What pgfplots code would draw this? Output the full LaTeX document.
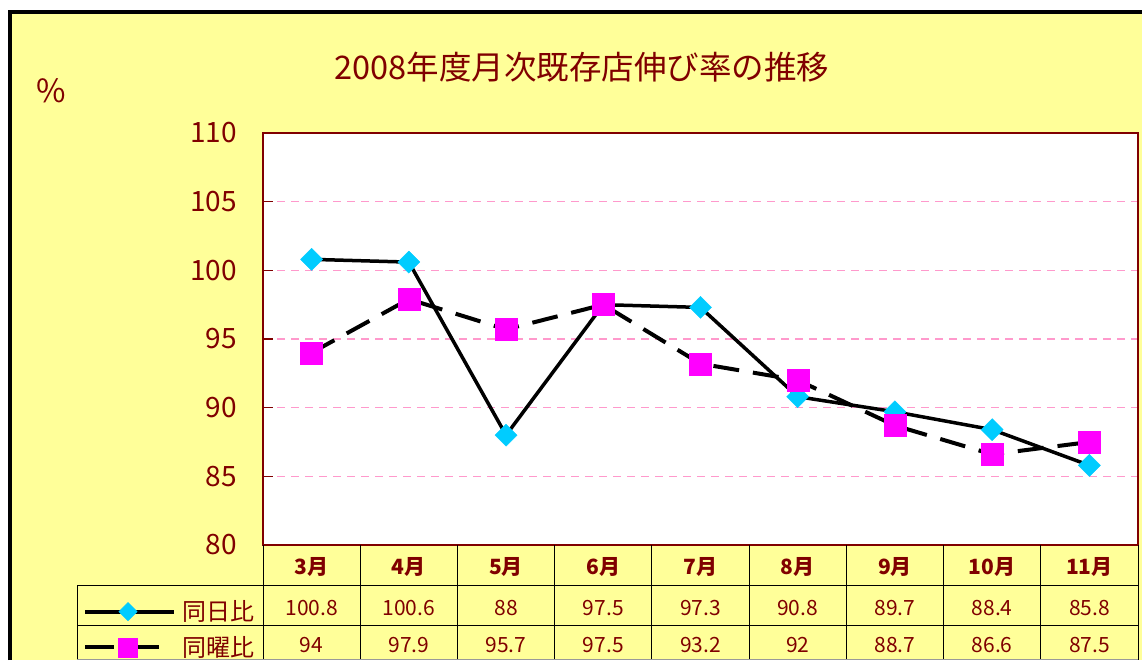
\documentclass[border=0pt]{standalone}
\usepackage{fontspec}
\setmainfont{Noto Sans CJK JP}
\usepackage{pgfplots}
\usepackage{pgfplotstable}
\pgfplotsset{compat=1.18}
\definecolor{bgyellow}{HTML}{FFFF99}
\definecolor{darkred}{HTML}{800000}
\definecolor{mcyan}{HTML}{00CCFF}
\definecolor{mmag}{HTML}{FF00FF}
\definecolor{gridpink}{HTML}{FF99CC}

\pgfplotstableread{
x s1 s2
1 100.8 94
2 100.6 97.9
3 88 95.7
4 97.5 97.5
5 97.3 93.2
6 90.8 92
7 89.7 88.7
8 88.4 86.6
9 85.8 87.5
}\datatable

\begin{document}
\begin{tikzpicture}
\begin{scope}[x=1pt,y=-1pt]
\path[use as bounding box] (0,0) rectangle (1142,660);
\fill[white] (0,0) rectangle (1142,660);
\fill[bgyellow] (10,12.5) rectangle (1142,660);
\draw[black, line width=4pt] (10,660) -- (10,12.5) -- (1142,12.5);
\node[darkred, font=\fontsize{32.5}{32.5}\selectfont] at (582,67) {2008年度月次既存店伸び率の推移};
\node[darkred, font=\fontsize{32}{32}\selectfont] at (51,91) {\%};
\end{scope}

\begin{axis}[
  at={(263pt,-545pt)}, anchor=south west,
  width=875pt, height=412pt, scale only axis,
  xmin=0.5, xmax=9.5, ymin=80, ymax=110,
  xtick=\empty, ytick={80,85,...,110}, ytick pos=left,
  axis background/.style={fill=white},
  axis line style={darkred, line width=2pt},
  ymajorgrids, major grid style={gridpink, dash pattern=on 8pt off 6pt, line width=1.3pt},
  tick align=inside, major tick length=10pt, tick style={darkred, line width=1.5pt},
  yticklabel style={darkred, font=\fontsize{28}{28}\selectfont, anchor=east, inner sep=0pt, xshift=-26pt},
  /pgf/number format/assume math mode=true,
  legend style={draw=none, fill=none, inner sep=0pt, outer sep=0pt,
    at={(axis description cs:-0.2057,-0.2050)}, anchor=west,
    column sep=6pt, row sep=14pt, text=darkred,
    font=\fontsize{24}{24}\selectfont,
    nodes={inner sep=0pt}},
  legend cell align=left,
]
\addplot[black, line width=3.5pt, forget plot] table[x=x, y=s1] {\datatable};
\addplot[black, line width=4pt, dash pattern=on 26pt off 14pt, forget plot] table[x=x, y=s2] {\datatable};
\addplot[only marks, mark=square*, mark size=7.8pt, mark options={rotate=45, fill=mcyan, draw=mcyan},
  legend image code/.code={
    \draw[black, line width=4pt] (0pt,0pt) -- (89pt,0pt);
    \draw[mark=square*, mark size=6.5pt, mark options={rotate=45, fill=mcyan, draw=mcyan}] plot coordinates {(43pt,0pt)};
  }] table[x=x, y=s1] {\datatable};
\addlegendentry{同日比}
\addplot[only marks, mark=square*, mark size=11pt, mark options={fill=mmag, draw=mmag},
  legend image code/.code={
    \draw[black, line width=4pt] (0pt,0pt) -- (29pt,0pt);
    \draw[black, line width=4pt] (53pt,0pt) -- (74pt,0pt);
    \draw[mark=square*, mark size=9.5pt, mark options={fill=mmag, draw=mmag}] plot coordinates {(43pt,0pt)};
  }] table[x=x, y=s2] {\datatable};
\addlegendentry{同曜比}
\end{axis}

\begin{scope}[x=1pt,y=-1pt]
\foreach \k in {0,...,9} {
  \draw[black, line width=1pt] ({263+97.2222*\k},545) -- ({263+97.2222*\k},660);
}
\draw[black, line width=1pt] (77,585) -- (1138,585);
\draw[black, line width=1pt] (77,625) -- (1138,625);
\draw[black, line width=1pt] (77,585) -- (77,660);
\draw[black!40, line width=1pt] (77,659) -- (1138,659);
\foreach \lab [count=\i] in {3月,4月,5月,6月,7月,8月,9月,10月,11月} {
  \node[darkred, font=\bfseries\fontsize{21}{21}\selectfont] at ({263+97.2222*(\i-0.5)},567) {\lab};
}
\foreach \i in {0,...,8} {
  \pgfplotstablegetelem{\i}{s1}\of\datatable
  \node[darkred, font=\fontsize{21}{21}\selectfont] at ({263+97.2222*(\i+0.5)},608) {\pgfplotsretval};
  \pgfplotstablegetelem{\i}{s2}\of\datatable
  \node[darkred, font=\fontsize{21}{21}\selectfont] at ({263+97.2222*(\i+0.5)},645) {\pgfplotsretval};
}
\end{scope}
\end{tikzpicture}
\end{document}
